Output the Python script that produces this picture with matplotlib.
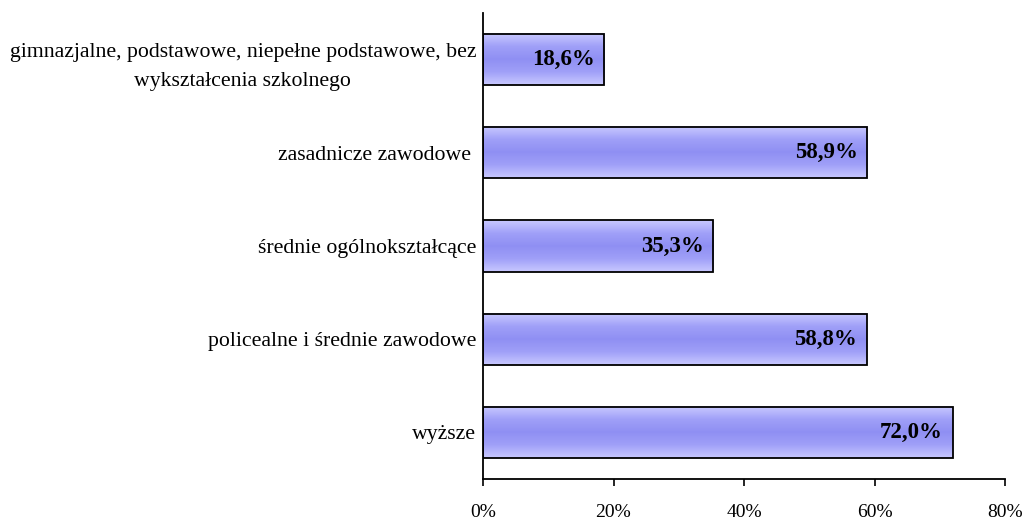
import numpy as np
import matplotlib

matplotlib.use("Agg")
import matplotlib.pyplot as plt
from matplotlib.colors import LinearSegmentedColormap
from matplotlib.ticker import FuncFormatter

# bottom-to-top order, as drawn on the y axis
categories = [
    "wyższe",
    "policealne i średnie zawodowe",
    "średnie ogólnokształcące",
    "zasadnicze zawodowe ",
    "gimnazjalne, podstawowe, niepełne podstawowe, bez\nwykształcenia szkolnego",
]
values = [72.0, 58.8, 35.3, 58.9, 18.6]
xticks = [0, 20, 40, 60, 80]

plt.rcParams["font.family"] = ["Liberation Serif", "DejaVu Serif"]

fig = plt.figure(figsize=(10.24, 5.2), dpi=100)
ax = fig.add_axes([483 / 1024, 1 - 479 / 520, 522 / 1024, 466 / 520])

bar_h = 0.55
cmap = LinearSegmentedColormap.from_list(
    "barfill", ["#c8c8ff", "#a0a0f8", "#8f8ff3", "#a0a0f8", "#c8c8ff"]
)
grad = np.linspace(0, 1, 64).reshape(-1, 1)

for i, v in enumerate(values):
    y0, y1 = i - bar_h / 2, i + bar_h / 2
    ax.imshow(grad, cmap=cmap, aspect="auto", extent=(0, v, y0, y1),
              origin="lower", zorder=2, interpolation="bicubic")
    ax.add_patch(plt.Rectangle((0, y0), v, bar_h, fill=False,
                               edgecolor="black", linewidth=1.3, zorder=3))
    ax.text(v - 1.5, i, f"{v:.1f}%".replace(".", ","), ha="right", va="center",
            fontsize=16.5, fontweight="bold", zorder=4)

ax.set_xlim(0, 80)
ax.set_ylim(-0.5, 4.5)
ax.set_xticks(xticks)
ax.xaxis.set_major_formatter(FuncFormatter(lambda x, _: f"{x:.0f}%"))
ax.set_yticks(range(len(categories)))
ax.set_yticklabels(categories, fontsize=15.7, ha="right",
                   multialignment="center", linespacing=1.7)
ax.tick_params(axis="y", length=0, pad=5)
ax.tick_params(axis="x", length=5, direction="out", labelsize=14, pad=13,
               width=1.2)

ax.spines["top"].set_visible(False)
ax.spines["right"].set_visible(False)
ax.spines["left"].set_linewidth(1.3)
ax.spines["bottom"].set_linewidth(1.3)
ax.set_facecolor("white")

fig.savefig("out.png", dpi=100)
